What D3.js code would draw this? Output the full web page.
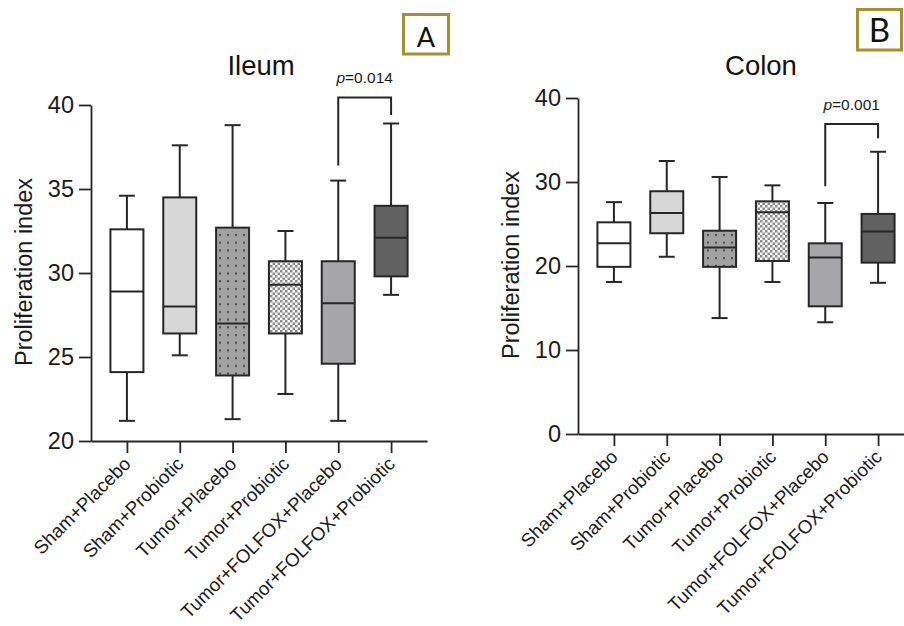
<!DOCTYPE html>
<html>
<head>
<meta charset="utf-8">
<script src="https://cdn.jsdelivr.net/npm/d3@7/dist/d3.min.js"></script>
<style>
  html, body { margin: 0; padding: 0; background: #fff; }
  svg { display: block; font-family: "Liberation Sans", Arial, sans-serif; }
</style>
</head>
<body>
<svg id="chart" width="904" height="626"></svg>
<script>
// Treatment groups (shared by both panels)
const groups = [
  "Sham+Placebo", "Sham+Probiotic", "Tumor+Placebo",
  "Tumor+Probiotic", "Tumor+FOLFOX+Placebo", "Tumor+FOLFOX+Probiotic"
];

// Ileum proliferation index: whisker low, Q1, median, Q3, whisker high
const ileumMin    = [21.2, 25.1, 21.3, 22.8, 21.2, 28.7];
const ileumQ1     = [24.1, 26.4, 23.9, 26.4, 24.6, 29.8];
const ileumMedian = [28.9, 28.0, 27.0, 29.3, 28.2, 32.1];
const ileumQ3     = [32.6, 34.5, 32.7, 30.7, 30.7, 34.0];
const ileumMax    = [34.6, 37.6, 38.8, 32.5, 35.5, 38.9];
const ileumTicks  = [20, 25, 30, 35, 40];

// Colon proliferation index
const colonMin    = [18.1, 21.1, 13.8, 18.1, 13.3, 18.0];
const colonQ1     = [19.9, 23.9, 19.9, 20.6, 15.2, 20.4];
const colonMedian = [22.7, 26.3, 22.2, 26.4, 21.0, 24.1];
const colonQ3     = [25.2, 28.9, 24.2, 27.7, 22.7, 26.2];
const colonMax    = [27.6, 32.5, 30.6, 29.6, 27.5, 33.6];
const colonTicks  = [0, 10, 20, 30, 40];

// Significance annotations: p text and bracket levels
const ileumPLabel = "0.014";
const colonPLabel = "0.001";
const ileumBracket = { top: 40.45, left: 36.4, right: 39.4 };
const colonBracket = { top: 36.9, left: 29.5, right: 35.2 };
const bracketPair = ["Tumor+FOLFOX+Placebo", "Tumor+FOLFOX+Probiotic"];

const fills = ["#ffffff", "#d7d7d7", "url(#dots)", "url(#checker)", "#a6a6a8", "#616161"];
const ink = "#262626";

const svg = d3.select("#chart");
const defs = svg.append("defs");

// Dotted fill
const dots = defs.append("pattern").attr("id", "dots")
  .attr("patternUnits", "userSpaceOnUse").attr("width", 8).attr("height", 7.7);
dots.append("rect").attr("width", 8).attr("height", 7.7).attr("fill", "#a2a2a2");
dots.append("rect").attr("x", 3).attr("y", 3).attr("width", 2).attr("height", 2).attr("fill", "#4a4a4a");

// Fine checkerboard fill
const checker = defs.append("pattern").attr("id", "checker")
  .attr("patternUnits", "userSpaceOnUse").attr("width", 5).attr("height", 5);
checker.append("rect").attr("width", 5).attr("height", 5).attr("fill", "#ffffff");
checker.append("rect").attr("width", 2.5).attr("height", 2.5).attr("fill", "#8c8c8c");
checker.append("rect").attr("x", 2.5).attr("y", 2.5).attr("width", 2.5).attr("height", 2.5).attr("fill", "#8c8c8c");

function panel(cfg) {
  const g = svg.append("g");
  const x = d3.scalePoint().domain(groups).range(cfg.xRange).padding(0.68);
  const y = d3.scaleLinear().domain(cfg.yDomain).range(cfg.yRange);

  // Y axis
  const ya = g.append("g").attr("transform", `translate(${cfg.xRange[0]},0)`)
    .call(d3.axisLeft(y).tickValues(cfg.ticks).tickSize(12).tickSizeOuter(0).tickPadding(5));
  ya.select(".domain").attr("stroke", ink).attr("stroke-width", 1.8);
  ya.selectAll(".tick line").attr("stroke", ink).attr("stroke-width", 1.8);
  ya.selectAll(".tick text").attr("fill", "#1a1a1a").attr("font-size", 23.5)
    .attr("font-family", "Liberation Sans, Arial, sans-serif");

  // X axis
  const xa = g.append("g").attr("transform", `translate(0,${cfg.yRange[0]})`)
    .call(d3.axisBottom(x).tickSize(12).tickSizeOuter(0).tickFormat(""));
  xa.select(".domain").attr("stroke", ink).attr("stroke-width", 1.8);
  xa.selectAll(".tick line").attr("stroke", ink).attr("stroke-width", 1.8);

  // Rotated group labels
  g.selectAll("text.xlab").data(groups).join("text")
    .attr("class", "xlab")
    .attr("transform", d => `translate(${x(d) + 5},${cfg.yRange[0] + 24}) rotate(-45)`)
    .attr("text-anchor", "end")
    .attr("font-size", 18.8)
    .attr("fill", "#1a1a1a")
    .text(d => d);

  // Boxes
  const boxW = 33, capW = 16;
  const rows = groups.map((gname, i) => ({
    g: gname, lo: cfg.min[i], q1: cfg.q1[i], med: cfg.med[i], q3: cfg.q3[i], hi: cfg.max[i], fill: fills[i]
  }));
  const bx = g.selectAll("g.box").data(rows).join("g").attr("class", "box");
  bx.append("line").attr("x1", d => x(d.g)).attr("x2", d => x(d.g))
    .attr("y1", d => y(d.hi)).attr("y2", d => y(d.q3));
  bx.append("line").attr("x1", d => x(d.g)).attr("x2", d => x(d.g))
    .attr("y1", d => y(d.q1)).attr("y2", d => y(d.lo));
  bx.append("line").attr("x1", d => x(d.g) - capW / 2).attr("x2", d => x(d.g) + capW / 2)
    .attr("y1", d => y(d.hi)).attr("y2", d => y(d.hi));
  bx.append("line").attr("x1", d => x(d.g) - capW / 2).attr("x2", d => x(d.g) + capW / 2)
    .attr("y1", d => y(d.lo)).attr("y2", d => y(d.lo));
  bx.append("rect").attr("x", d => x(d.g) - boxW / 2).attr("width", boxW)
    .attr("y", d => y(d.q3)).attr("height", d => y(d.q1) - y(d.q3))
    .attr("fill", d => d.fill);
  bx.append("line").attr("x1", d => x(d.g) - boxW / 2).attr("x2", d => x(d.g) + boxW / 2)
    .attr("y1", d => y(d.med)).attr("y2", d => y(d.med));
  bx.selectAll("line, rect").attr("stroke", ink).attr("stroke-width", 2);

  // Significance bracket
  const xl = x(bracketPair[0]), xr = x(bracketPair[1]);
  g.append("path")
    .attr("d", `M${xl},${y(cfg.bracket.left)}V${y(cfg.bracket.top)}H${xr}V${y(cfg.bracket.right)}`)
    .attr("fill", "none").attr("stroke", ink).attr("stroke-width", 2);
  const pt = g.append("text").attr("x", (xl + xr) / 2).attr("y", y(cfg.bracket.top) - 14)
    .attr("text-anchor", "middle").attr("font-size", 15.5).attr("fill", "#1a1a1a");
  pt.append("tspan").attr("font-style", "italic").text("p");
  pt.append("tspan").text("=" + cfg.p);

  // Title
  g.append("text").attr("x", cfg.titleX).attr("y", 75)
    .attr("text-anchor", "middle").attr("font-size", 27.5).attr("fill", "#111")
    .text(cfg.title);

  // Y label
  g.append("text")
    .attr("transform", `translate(${cfg.ylabX},${cfg.ylabY}) rotate(-90)`)
    .attr("text-anchor", "middle").attr("font-size", 23.5).attr("fill", "#1a1a1a")
    .text("Proliferation index");

  // Panel letter
  g.append("rect").attr("x", cfg.tag.x).attr("y", cfg.tag.y)
    .attr("width", cfg.tag.w).attr("height", cfg.tag.h)
    .attr("fill", "#fff").attr("stroke", "#a88f33").attr("stroke-width", 3);
  g.append("text").attr("x", cfg.tag.x + cfg.tag.w / 2).attr("y", cfg.tag.base)
    .attr("text-anchor", "middle").attr("font-size", cfg.tag.fs).attr("fill", "#111")
    .attr("font-family", "Lato, 'Open Sans', sans-serif")
    .text(cfg.tag.text);
}

panel({
  xRange: [91, 427], yDomain: [20, 40], yRange: [441, 105], ticks: ileumTicks,
  min: ileumMin, q1: ileumQ1, med: ileumMedian, q3: ileumQ3, max: ileumMax,
  bracket: ileumBracket, p: ileumPLabel, title: "Ileum", titleX: 261,
  ylabX: 32, ylabY: 272,
  tag: { x: 403.5, y: 14.5, w: 45, h: 39.5, base: 47, fs: 27, text: "A" }
});

panel({
  xRange: [578, 914], yDomain: [0, 40], yRange: [434, 98], ticks: colonTicks,
  min: colonMin, q1: colonQ1, med: colonMedian, q3: colonQ3, max: colonMax,
  bracket: colonBracket, p: colonPLabel, title: "Colon", titleX: 761,
  ylabX: 519, ylabY: 265,
  tag: { x: 857.5, y: 9.5, w: 44, h: 40.5, base: 42, fs: 33, text: "B" }
});
</script>
</body>
</html>
